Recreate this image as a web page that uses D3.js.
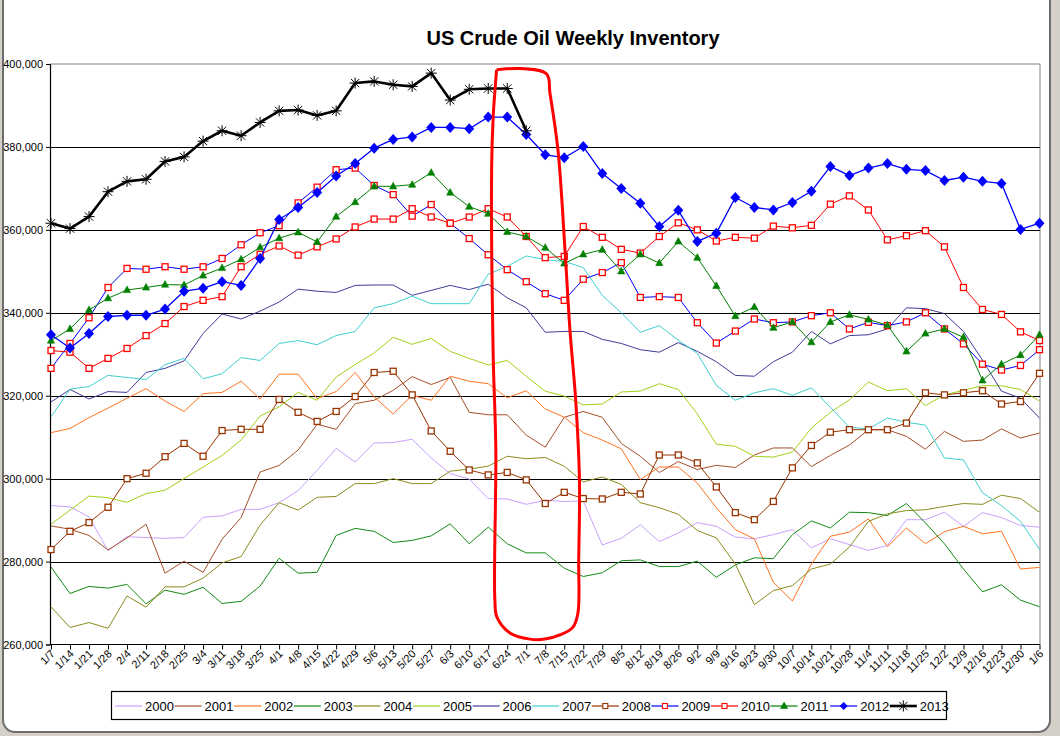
<!DOCTYPE html>
<html>
<head>
<meta charset="utf-8">
<script src="https://cdn.jsdelivr.net/npm/d3@7"></script>
<style>
body { margin: 0; background: #d4d0c8; }
svg { display: block; font-family: Arial, "Liberation Sans", sans-serif; }
</style>
</head>
<body>
<svg id="chart" width="1060" height="736"></svg>
<script>
// week labels on the x axis
var weeks = ["1/7","1/14","1/21","1/28","2/4","2/11","2/18","2/25","3/4","3/11","3/18","3/25",
    "4/1","4/8","4/15","4/22","4/29","5/6","5/13","5/20","5/27","6/3","6/10","6/17","6/24",
    "7/1","7/8","7/15","7/22","7/29","8/5","8/12","8/19","8/26","9/2","9/9","9/16","9/23",
    "9/30","10/7","10/14","10/21","10/28","11/4","11/11","11/18","11/25","12/2","12/9",
    "12/16","12/23","12/30","1/6"];

var yTicks = [260, 280, 300, 320, 340, 360, 380, 400];

// inventory, thousand barrels
var y2000 = [293.5,293.2,290.8,282.6,286.0,285.8,285.6,285.8,290.7,291.0,292.6,292.6,294.2,297.1,302.0,307.3,304.0,308.6,308.7,309.5,305.0,301.2,299.9,295.2,295.1,293.8,294.8,294.5,294.6,284.0,285.6,288.9,284.8,286.9,289.4,288.5,285.9,285.5,286.5,287.7,283.3,285.5,284.1,282.7,283.9,290.1,290.1,291.9,288.5,291.8,290.6,288.7,288.3];
var y2001 = [288.6,287.8,286.3,282.8,285.7,289.0,277.2,280.1,277.4,285.4,290.6,301.6,303.2,306.9,313.1,311.9,318.1,318.9,321.3,324.6,322.7,324.4,316.0,315.4,315.4,310.5,307.6,314.8,316.2,314.8,308.5,305.4,301.5,304.1,302.2,303.2,302.7,305.7,307.4,307.4,302.9,305.6,308.1,311.8,311.8,310.2,307.1,311.4,309.0,309.3,312.0,309.8,311.0];
var y2002 = [311.1,312.1,314.7,317.0,319.4,321.7,318.7,316.2,320.5,320.8,323.5,319.2,325.2,325.2,319.3,321.0,325.6,319.7,315.6,320.1,318.9,324.7,323.5,322.9,319.5,321.2,316.8,314.8,311.1,309.3,307.2,299.8,302.8,302.8,298.9,293.0,287.7,285.5,275.0,270.5,279.4,286.1,287.1,290.3,283.6,288.1,284.3,287.2,288.5,286.7,287.3,278.2,278.6];
var y2003 = [278.7,272.3,274.0,273.6,274.5,269.8,273.1,272.1,273.8,269.9,270.4,274.1,280.8,277.2,277.4,286.3,288.0,287.3,284.6,285.1,286.2,289.1,284.3,288.3,284.3,282.1,282.1,278.4,276.4,277.3,280.2,280.4,278.8,278.8,280.1,276.2,279.2,280.9,280.7,286.5,289.8,288.1,291.9,291.8,291.1,294.0,289.3,284.3,278.2,272.7,274.4,270.7,269.1];
var y2004 = [269.1,264.1,265.3,263.9,271.7,269.0,273.9,273.9,276.0,279.7,281.2,288.8,294.2,292.4,295.5,295.7,298.8,298.8,300.0,298.8,298.8,301.8,302.3,303.0,305.4,304.8,305.1,303.0,299.2,300.4,298.6,294.2,293.0,291.4,287.5,285.7,279.4,269.6,273.0,274.2,278.2,279.4,283.5,289.7,291.5,292.3,292.5,293.3,294.0,293.8,296.0,295.2,291.9];
var y2005 = [289.0,292.4,295.8,295.4,294.3,296.4,297.2,300.0,302.8,305.6,309.3,315.1,317.3,320.8,318.9,324.5,327.5,330.3,334.1,332.4,333.8,330.7,329.0,327.4,328.5,324.7,321.1,319.9,317.8,318.0,320.9,321.1,322.9,321.5,315.6,308.3,307.8,305.4,305.2,306.4,312.2,316.0,319.0,323.3,321.2,321.7,317.6,320.2,321.3,322.4,322.4,321.5,318.7];
var y2006 = [318.5,321.5,319.2,321.0,320.8,325.6,326.6,328.4,335.0,339.7,338.5,340.4,342.6,345.7,345.2,344.9,346.6,346.7,346.7,344.2,345.4,346.6,345.6,346.9,343.6,341.2,335.3,335.5,335.5,333.6,332.6,331.1,330.5,332.8,330.7,328.2,324.9,324.7,328.2,330.5,335.5,332.5,334.5,334.7,336.1,341.2,341.0,339.8,335.5,328.6,321.1,319.4,314.6];
var y2007 = [314.9,321.6,322.2,324.9,324.4,323.9,327.5,329.0,324.1,325.3,329.2,328.5,332.6,333.3,332.3,334.5,335.5,341.2,342.2,344.0,342.2,342.2,342.2,349.3,351.2,353.7,352.8,352.4,350.9,344.2,340.0,335.3,336.9,333.4,330.2,322.5,318.9,320.7,321.7,320.1,321.9,317.2,312.4,312.0,314.6,313.6,312.9,305.0,304.5,296.6,293.5,289.7,282.9];
var y2008 = [282.9,287.3,289.4,293.1,300.0,301.3,305.3,308.5,305.4,311.6,311.9,311.9,319.1,316.0,313.8,316.2,319.8,325.6,325.9,320.2,311.5,306.6,302.1,300.9,301.5,299.7,294.0,296.7,295.2,295.1,296.7,296.3,305.7,305.7,303.8,298.0,291.8,290.1,294.5,302.6,308.0,311.2,311.8,311.8,311.8,313.4,320.7,320.2,320.7,321.2,318.0,318.6,325.4];
var y2009 = [326.6,332.6,338.8,346.1,350.7,350.5,351.1,350.5,351.1,353.1,356.4,359.3,361.0,366.5,370.3,374.5,374.9,370.7,368.5,363.3,366.1,361.6,357.9,354.0,350.4,347.5,344.6,343.0,348.1,349.7,352.1,343.7,343.9,343.7,337.6,332.7,335.6,338.5,337.6,337.8,339.3,340.0,336.1,337.7,336.9,337.8,340.0,336.1,332.5,327.6,326.2,327.3,331.1];
var y2010 = [330.9,330.5,326.6,329.0,331.4,334.5,337.4,341.5,343.0,343.9,351.1,354.1,356.1,353.9,355.9,357.8,360.7,362.6,362.6,365.1,363.1,361.6,363.1,365.1,363.1,358.4,353.3,353.6,360.8,358.2,355.3,354.4,358.4,361.7,360.0,357.3,358.2,358.0,360.9,360.5,361.1,366.2,368.2,364.8,357.6,358.6,359.8,355.9,346.1,340.8,339.6,335.4,333.3];
var y2011 = [333.3,336.1,340.7,343.5,345.5,346.1,346.8,346.7,349.0,350.8,352.9,355.8,358.0,359.4,357.1,363.2,366.7,370.5,370.5,370.9,373.8,369.0,365.6,363.9,359.5,358.4,355.7,351.9,354.1,355.2,350.0,354.1,352.0,357.2,353.3,346.5,339.2,341.4,336.4,337.8,332.9,337.8,339.5,338.4,337.0,330.7,335.0,336.1,334.1,323.7,327.6,329.8,334.7];
var y2012 = [334.7,331.5,335.0,339.1,339.4,339.4,340.9,345.2,345.9,347.5,346.6,353.1,362.5,365.4,369.0,373.0,376.0,379.7,381.8,382.4,384.7,384.7,384.4,387.2,387.2,383.0,378.1,377.4,380.1,373.6,370.0,366.4,360.8,364.7,357.2,359.2,367.8,365.4,364.8,366.6,369.3,375.3,373.1,374.9,376.0,374.6,374.3,371.9,372.7,371.7,371.2,360.1,361.6];
var y2013 = [361.6,360.3,363.2,369.2,371.7,372.2,376.5,377.6,381.4,383.9,382.7,385.9,388.7,388.9,387.6,388.7,395.4,395.8,395.0,394.6,397.8,391.3,393.9,394.1,394.1,383.9];

// hand drawn red loop, as [week index, thousand barrels]
var loop = [[23.44,398.6],[24.67,398.9],[26.07,397.6],[26.25,392.9],[26.67,379.2],[27.04,355.1],
    [27.3,335.8],[27.6,319.0],[27.8,299.6],[27.76,280.4],[27.72,267.6],[27.46,264.2],[26.77,262.3],
    [25.98,261.3],[25.2,261.3],[24.14,262.8],[23.46,266.6],[23.35,270.7],[23.4,306.9],[23.26,330.2],
    [23.18,375.1],[23.26,387.2],[23.44,398.6]];

var series = [
    {name: "2000", values: y2000, color: "#c9a0ff", width: 1},
    {name: "2001", values: y2001, color: "#a5502a", width: 1},
    {name: "2002", values: y2002, color: "#ff7320", width: 1},
    {name: "2003", values: y2003, color: "#138a13", width: 1},
    {name: "2004", values: y2004, color: "#8c8c1a", width: 1},
    {name: "2005", values: y2005, color: "#a2d11a", width: 1},
    {name: "2006", values: y2006, color: "#3d3d99", width: 1},
    {name: "2007", values: y2007, color: "#3fcfcf", width: 1},
    {name: "2008", values: y2008, color: "#993300", width: 1, marker: "square", mColor: "#993300"},
    {name: "2009", values: y2009, color: "#0000ff", width: 1, marker: "square", mColor: "#ff0000"},
    {name: "2010", values: y2010, color: "#ff0000", width: 1, marker: "square", mColor: "#ff0000"},
    {name: "2011", values: y2011, color: "#008000", width: 1, marker: "triangle", mColor: "#008000"},
    {name: "2012", values: y2012, color: "#0000ff", width: 1.3, marker: "diamond", mColor: "#0000ff"},
    {name: "2013", values: y2013, color: "#000000", width: 2.6, marker: "star", mColor: "#000000"}
];

var svg = d3.select("#chart");
var W = 1060, H = 736;
var plot = {left: 50, right: 1040, top: 64, bottom: 644.5};

// chart frame
svg.append("rect").attr("x", 3).attr("y", -20).attr("width", 1047).attr("height", 752)
    .attr("rx", 12).attr("fill", "#ffffff").attr("stroke", "#6e6e6e").attr("stroke-width", 2);

var x = d3.scalePoint().domain(weeks).range([51, 1039.5]);
var xi = d3.scaleLinear().domain([0, weeks.length - 1]).range([51, 1039.5]);
var y = d3.scaleLinear().domain([260, 400]).range([plot.bottom, plot.top]);

svg.append("text").attr("x", 573).attr("y", 45).attr("text-anchor", "middle")
    .style("font-size", "20px").style("font-weight", "bold").text("US Crude Oil Weekly Inventory");

// plot area border (top & right, gray)
svg.append("path")
    .attr("d", "M" + plot.left + "," + plot.top + "H" + plot.right + "V" + plot.bottom)
    .attr("fill", "none").attr("stroke", "#808080").attr("stroke-width", 1);

// gridlines
svg.append("g").selectAll("line").data(yTicks.filter(d => d > 260 && d < 400)).join("line")
    .attr("x1", plot.left).attr("x2", plot.right)
    .attr("y1", d => Math.round(y(d)) + 0.5).attr("y2", d => Math.round(y(d)) + 0.5)
    .attr("stroke", "#000").attr("stroke-width", 1.2);

// y axis
var yAxis = svg.append("g").attr("transform", "translate(" + plot.left + ",0)")
    .call(d3.axisLeft(y).tickValues(yTicks).tickSize(4).tickPadding(3)
        .tickFormat(d => d3.format(",")(d * 1000)));
yAxis.select(".domain").attr("stroke", "#000").attr("stroke-width", 1.2);
yAxis.selectAll("text").style("font-size", "11px").style("font-family", "Arial, 'Liberation Sans'").attr("fill", "#000");

// x axis
var xAxis = svg.append("g").attr("transform", "translate(0," + plot.bottom + ")")
    .call(d3.axisBottom(x).tickSize(5).tickSizeOuter(0));
xAxis.select(".domain").attr("stroke", "#000").attr("stroke-width", 1.2)
    .attr("d", "M" + plot.left + ",0H" + plot.right);
xAxis.selectAll("text").style("font-size", "11px").style("font-family", "Arial, 'Liberation Sans'")
    .attr("text-anchor", "end").attr("dy", null).attr("y", 0)
    .attr("transform", "translate(4,10) rotate(-45)");

// series lines
var line = d3.line().x((d, i) => xi(i)).y(d => y(d));
var gSeries = svg.append("g");
series.forEach(function (s) {
    var g = gSeries.append("g");
    g.append("path").attr("d", line(s.values)).attr("fill", "none")
        .attr("stroke", s.color).attr("stroke-width", s.width).attr("stroke-linejoin", "round");
    if (s.marker) drawMarkers(g, s, s.values.map((v, i) => [xi(i), y(v)]));
});

function drawMarkers(g, s, pts) {
    pts.forEach(function (p) {
        drawMarker(g, s.marker, s.mColor, p[0], p[1]);
    });
}

function drawMarker(g, type, c, px, py) {
    if (type == "square") {
        g.append("rect").attr("x", px - 3).attr("y", py - 3).attr("width", 6).attr("height", 6)
            .attr("fill", "#fff").attr("stroke", c).attr("stroke-width", 1.3);
    } else if (type == "triangle") {
        g.append("path").attr("d", "M" + px + "," + (py - 4) + "L" + (px + 3.6) + "," + (py + 2.6) + "L" + (px - 3.6) + "," + (py + 2.6) + "Z")
            .attr("fill", c).attr("stroke", c).attr("stroke-width", 0.6);
    } else if (type == "diamond") {
        g.append("path").attr("d", "M" + px + "," + (py - 5.5) + "L" + (px + 5) + "," + py + "L" + px + "," + (py + 5.5) + "L" + (px - 5) + "," + py + "Z")
            .attr("fill", c);
    } else if (type == "star") {
        var r = 5.5;
        var d = "M" + (px - r) + "," + py + "H" + (px + r) +
            "M" + px + "," + (py - r) + "V" + (py + r) +
            "M" + (px - r * 0.75) + "," + (py - r * 0.75) + "L" + (px + r * 0.75) + "," + (py + r * 0.75) +
            "M" + (px - r * 0.75) + "," + (py + r * 0.75) + "L" + (px + r * 0.75) + "," + (py - r * 0.75);
        g.append("path").attr("d", d).attr("stroke", c).attr("stroke-width", 1).attr("fill", "none");
    }
}

// red hand drawn loop
svg.append("path").attr("d", d3.line().x(d => xi(d[0])).y(d => y(d[1])).curve(d3.curveCatmullRom)(loop))
    .attr("fill", "none").attr("stroke", "#ff0000").attr("stroke-width", 3);

// legend
var legend = svg.append("g");
legend.append("rect").attr("x", 111.5).attr("y", 691.5).attr("width", 835).attr("height", 28)
    .attr("fill", "#fff").attr("stroke", "#000").attr("stroke-width", 1.2);
series.forEach(function (s, i) {
    var tx = 145 + i * 59.6;
    var ly = 706;
    var g = legend.append("g");
    g.append("line").attr("x1", tx - 30).attr("x2", tx - 3).attr("y1", ly).attr("y2", ly)
        .attr("stroke", s.color).attr("stroke-width", s.name == "2013" ? 2.6 : 1.2);
    if (s.marker) {
        var m = s.marker == "diamond" ? "diamondSmall" : s.marker;
        if (m == "diamondSmall") {
            g.append("path").attr("d", "M" + (tx - 16.5) + "," + (ly - 4) + "l4,4l-4,4l-4,-4Z").attr("fill", s.mColor);
        } else if (m == "square") {
            g.append("rect").attr("x", tx - 19).attr("y", ly - 2.5).attr("width", 5).attr("height", 5)
                .attr("fill", "#fff").attr("stroke", s.mColor).attr("stroke-width", 1.1);
        } else {
            drawMarker(g, m, s.mColor, tx - 16.5, ly);
        }
    }
    g.append("text").attr("x", tx).attr("y", ly + 5).style("font-size", "13px").text(s.name);
});

// window edge on the right/bottom
svg.append("rect").attr("x", 1051).attr("y", 0).attr("width", 9).attr("height", H).attr("fill", "#d4d0c8");
svg.append("rect").attr("x", 0).attr("y", 733).attr("width", W).attr("height", 3).attr("fill", "#d4d0c8");
</script>
</body>
</html>
